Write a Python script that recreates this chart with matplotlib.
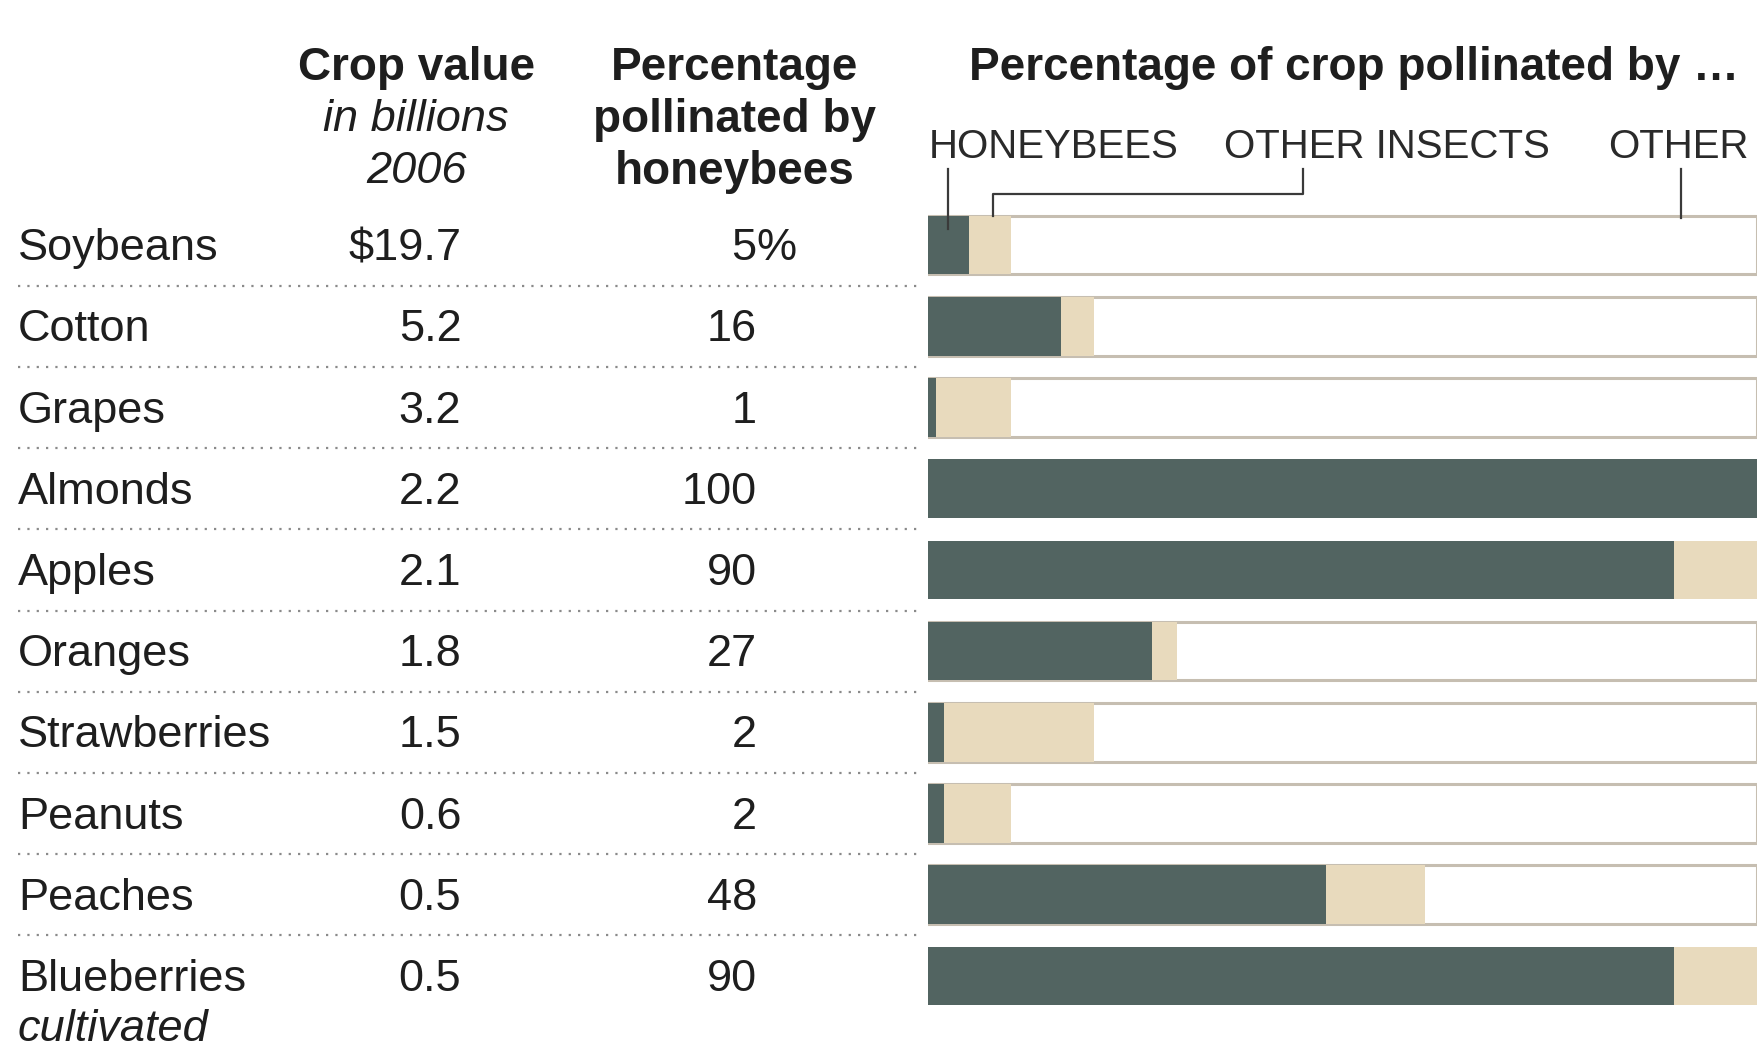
import matplotlib
matplotlib.use("Agg")
import matplotlib.pyplot as plt
from matplotlib.transforms import blended_transform_factory

plt.rcParams['font.family'] = ['Liberation Sans', 'DejaVu Sans']

crops = ["Soybeans", "Cotton", "Grapes", "Almonds", "Apples", "Oranges",
         "Strawberries", "Peanuts", "Peaches", "Blueberries"]
crop_value = ["$19.7", "5.2", "3.2", "2.2", "2.1", "1.8", "1.5", "0.6", "0.5", "0.5"]
pct_honeybees = [5, 16, 1, 100, 90, 27, 2, 2, 48, 90]
pct_other_insects = [5, 4, 9, 0, 10, 3, 18, 8, 12, 10]

DARK = "#526461"
TAN = "#e8dabd"
EDGE = "#c6beb1"
TXT = "#1e1e1e"

fig = plt.figure(figsize=(17.64, 10.47), dpi=100)
ax = fig.add_axes([0.526, 0.0291, 0.470, 0.7756])
ax.set_xlim(0, 100)
ax.set_ylim(9.5, -0.5)
ax.axis("off")

n = len(crops)
ys = list(range(n))
h = 0.72
other = [100 - a - b for a, b in zip(pct_honeybees, pct_other_insects)]
for i in ys:
    if other[i] > 0:
        ax.barh(i, 100, height=h, color="white", edgecolor=EDGE, linewidth=2.2, zorder=1)
ax.barh(ys, pct_honeybees, height=h, color=DARK, zorder=2)
ax.barh(ys, pct_other_insects, left=pct_honeybees, height=h, color=TAN, zorder=2)

# table text (x in figure fraction, y in data rows)
tr = blended_transform_factory(fig.transFigure, ax.transData)
fs = 32.5
fb = 33
dy = 0.045
for i in ys:
    ax.text(0.0102, i + dy, crops[i], transform=tr, ha="left", va="center", fontsize=fs, color=TXT)
    ax.text(0.2615, i + dy, crop_value[i], transform=tr, ha="right", va="center", fontsize=fs, color=TXT)
    ax.text(0.429, i + dy, str(pct_honeybees[i]), transform=tr, ha="right", va="center", fontsize=fs, color=TXT)
ax.text(0.429, dy, "%", transform=tr, ha="left", va="center", fontsize=fs, color=TXT)
ax.text(0.0102, 9.62 + dy, "cultivated", transform=tr, ha="left", va="center", fontsize=fs,
        style="italic", color=TXT, clip_on=False)

for i in range(n - 1):
    ax.plot([0.0102, 0.52], [i + 0.5, i + 0.5], transform=tr, color="#8a8a8a",
            linewidth=1.6, linestyle=(0, (1, 3.2)), clip_on=False)

# headers
hy = [-2.23 + dy, -1.59 + dy, -0.948 + dy]
ax.text(0.236, hy[0], "Crop value", transform=tr, ha="center", va="center", fontsize=fb,
        fontweight="bold", color=TXT)
ax.text(0.236, hy[1], "in billions", transform=tr, ha="center", va="center", fontsize=fs,
        style="italic", color=TXT)
ax.text(0.236, hy[2], "2006", transform=tr, ha="center", va="center", fontsize=fs,
        style="italic", color=TXT)
for k, s in enumerate(["Percentage", "pollinated by", "honeybees"]):
    ax.text(0.4165, hy[k], s, transform=tr, ha="center", va="center", fontsize=fb,
            fontweight="bold", color=TXT)

ax.text(5.0, hy[0], "Percentage of crop pollinated by \u2026", ha="left", va="center",
        fontsize=fb, fontweight="bold", color=TXT, clip_on=False)

# legend labels and leaders
ly = -1.244 + 0.04
lfs = 29
ax.text(0.1, ly, "HONEYBEES", ha="left", va="center", fontsize=lfs, color="#2a2a2a", clip_on=False)
ax.text(35.7, ly, "OTHER INSECTS", ha="left", va="center", fontsize=lfs, color="#2a2a2a", clip_on=False)
ax.text(99.0, ly, "OTHER", ha="right", va="center", fontsize=lfs, color="#2a2a2a", clip_on=False)
lc = "#3a3a3a"
lw = 1.6
ax.plot([2.4, 2.4], [-0.936, -0.2], color=lc, lw=lw, clip_on=False, zorder=3)
ax.plot([45.2, 45.2, 7.9, 7.9], [-0.936, -0.634, -0.634, -0.357], color=lc, lw=lw,
        clip_on=False, zorder=3)
ax.plot([90.8, 90.8], [-0.936, -0.33], color=lc, lw=lw, clip_on=False, zorder=3)

fig.savefig("out.png", dpi=100, facecolor="white")
